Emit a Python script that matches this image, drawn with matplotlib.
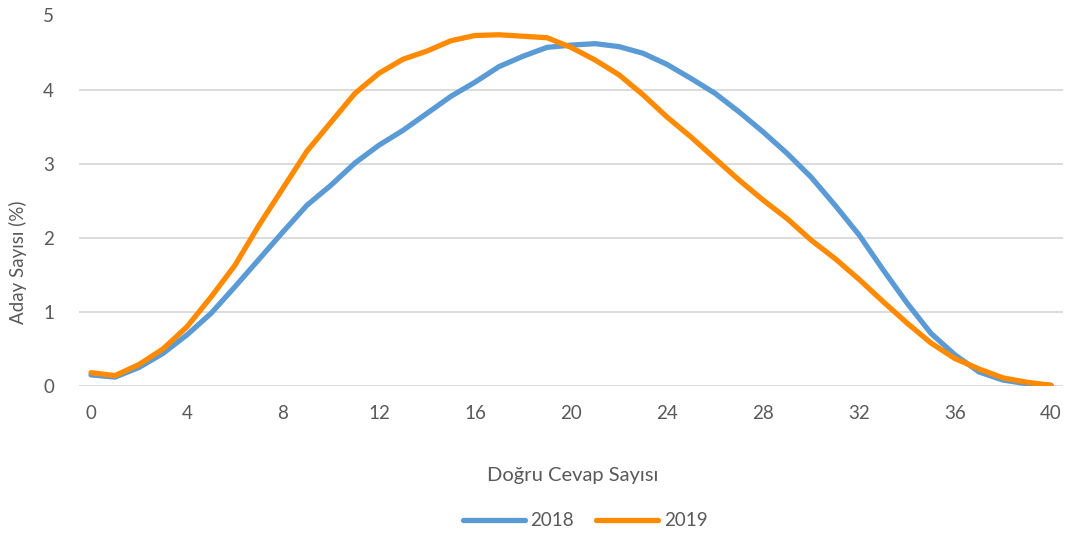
import matplotlib
matplotlib.use("Agg")
import matplotlib.pyplot as plt

x_values = list(range(0, 41))
series_2018 = [0.15, 0.12, 0.25, 0.44, 0.69, 0.98, 1.34, 1.71, 2.08, 2.44,
               2.71, 3.01, 3.25, 3.45, 3.68, 3.91, 4.10, 4.31, 4.45, 4.57,
               4.60, 4.62, 4.58, 4.49, 4.34, 4.15, 3.95, 3.70, 3.43, 3.14,
               2.82, 2.44, 2.04, 1.57, 1.12, 0.71, 0.42, 0.19, 0.08, 0.03, 0.01]
series_2019 = [0.18, 0.14, 0.29, 0.50, 0.80, 1.20, 1.63, 2.17, 2.67, 3.17,
               3.56, 3.95, 4.22, 4.41, 4.52, 4.66, 4.73, 4.74, 4.72, 4.70,
               4.57, 4.40, 4.20, 3.93, 3.63, 3.36, 3.07, 2.78, 2.51, 2.26,
               1.97, 1.72, 1.44, 1.14, 0.85, 0.58, 0.37, 0.23, 0.11, 0.05, 0.01]
x_ticks = list(range(0, 41, 4))
y_ticks = [0, 1, 2, 3, 4, 5]
x_label = "Doğru Cevap Sayısı"
y_label = "Aday Sayısı (%)"

plt.rcParams['font.family'] = ['Lato', 'DejaVu Sans']
text_color = '#595959'

fig = plt.figure(figsize=(10.66, 5.38), dpi=100)
ax = fig.add_axes([79/1066, 1 - 386/538, (1063-79)/1066, (386-15.5)/538])

ax.plot(x_values, series_2018, color='#5B9BD5', lw=3.8, label='2018',
        solid_capstyle='round', solid_joinstyle='round', zorder=3)
ax.plot(x_values, series_2019, color='#FF8A00', lw=3.8, label='2019',
        solid_capstyle='round', solid_joinstyle='round', zorder=4)

ax.set_xlim(-0.5, 40.5)
ax.set_ylim(0, 5)
ax.set_xticks(x_ticks)
ax.set_yticks(y_ticks)
for s in ax.spines.values():
    s.set_visible(False)
ax.grid(axis='y', color='#D9D9D9', lw=1.3, zorder=0)
ax.set_axisbelow(True)
ax.tick_params(axis='both', length=0, labelsize=13.5, colors=text_color)
ax.tick_params(axis='x', pad=14)
ax.tick_params(axis='y', pad=18)

fig.text(573/1066, 1 - 476/538, x_label, ha='center', va='center',
         fontsize=14.5, color=text_color)
fig.text(18/1066, 1 - 262/538, y_label, ha='center', va='center',
         rotation=90, fontsize=13.5, color=text_color)

leg = fig.legend(loc='center', bbox_to_anchor=(585/1066, 1 - 521/538), ncol=2,
                 frameon=False, fontsize=13.5, handlelength=3.3, columnspacing=1.2,
                 handletextpad=0.3)
for t in leg.get_texts():
    t.set_color(text_color)

fig.savefig('out.png', dpi=100)
